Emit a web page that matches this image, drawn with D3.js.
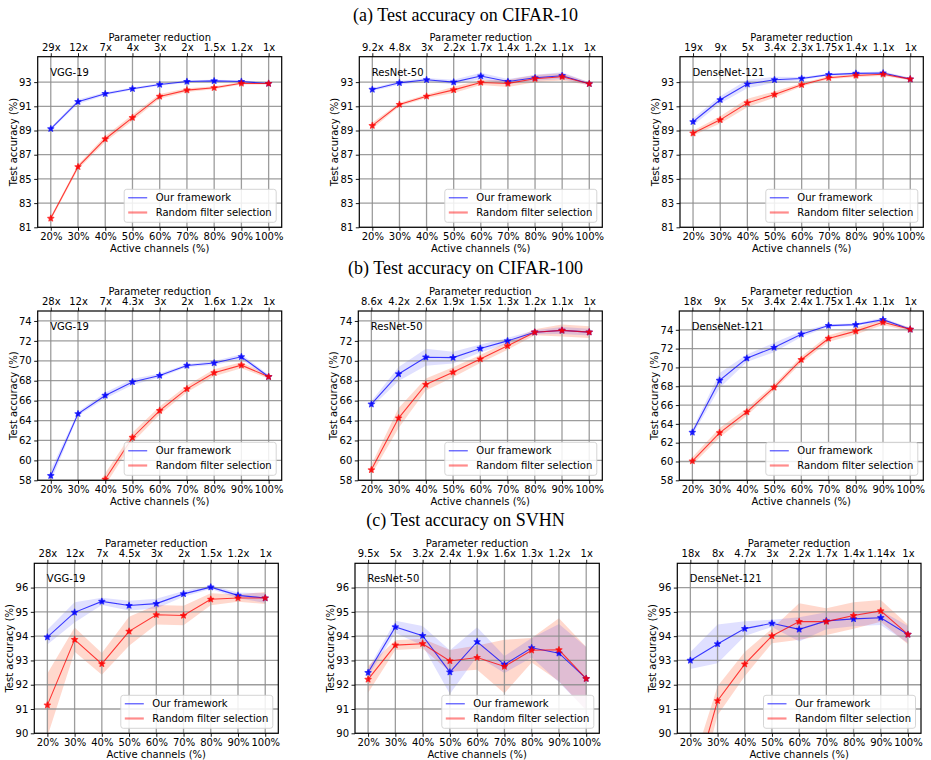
<!DOCTYPE html>
<html>
<head>
<meta charset="utf-8">
<script src="https://cdn.jsdelivr.net/npm/d3@7"></script>
<style>
  body { margin: 0; background: #fff; }
  svg text { font-family: "DejaVu Sans", sans-serif; fill: #000; }
  .title { font-family: "Liberation Serif", "Times New Roman", serif; font-size: 18px; }
</style>
</head>
<body>
<svg id="chart" width="931" height="760"></svg>
<script>
// x values shared by every panel
var activeChannels = [20, 30, 40, 50, 60, 70, 80, 90, 100];

// (a) CIFAR-10
var c10VggReduction = ['29x', '12x', '7x', '4x', '3x', '2x', '1.5x', '1.2x', '1x'];
var c10VggOurs = [89.14, 91.38, 92.04, 92.45, 92.80, 93.05, 93.10, 93.05, 92.88];
var c10VggOursStd = [0.12, 0.18, 0.12, 0.10, 0.10, 0.10, 0.10, 0.10, 0.08];
var c10VggRand = [81.74, 86.00, 88.30, 90.06, 91.82, 92.34, 92.53, 92.90, 92.88];
var c10VggRandStd = [0.15, 0.20, 0.25, 0.25, 0.20, 0.15, 0.12, 0.10, 0.08];

var c10ResReduction = ['9.2x', '4.8x', '3x', '2.2x', '1.7x', '1.4x', '1.2x', '1.1x', '1x'];
var c10ResOurs = [92.39, 92.94, 93.19, 93.00, 93.50, 93.05, 93.36, 93.53, 92.86];
var c10ResOursStd = [0.12, 0.15, 0.15, 0.20, 0.28, 0.20, 0.25, 0.28, 0.12];
var c10ResRand = [89.40, 91.15, 91.83, 92.36, 92.97, 92.89, 93.28, 93.44, 92.86];
var c10ResRandStd = [0.25, 0.15, 0.15, 0.25, 0.20, 0.30, 0.30, 0.30, 0.12];

var c10DenseReduction = ['19x', '9x', '5x', '3.4x', '2.3x', '1.75x', '1.4x', '1.1x', '1x'];
var c10DenseOurs = [89.72, 91.54, 92.84, 93.19, 93.30, 93.62, 93.72, 93.75, 93.25];
var c10DenseOursStd = [0.30, 0.30, 0.35, 0.25, 0.12, 0.10, 0.10, 0.12, 0.10];
var c10DenseRand = [88.78, 89.88, 91.28, 91.98, 92.78, 93.36, 93.55, 93.65, 93.25];
var c10DenseRandStd = [0.20, 0.30, 0.35, 0.25, 0.15, 0.12, 0.12, 0.15, 0.10];

// (b) CIFAR-100
var c100VggReduction = ['28x', '12x', '7x', '4.3x', '3x', '2x', '1.6x', '1.2x', '1x'];
var c100VggOurs = [58.46, 64.68, 66.52, 67.88, 68.52, 69.53, 69.78, 70.40, 68.40];
var c100VggOursStd = [0.60, 0.20, 0.30, 0.30, 0.20, 0.15, 0.20, 0.25, 0.20];
var c100VggRand = [46.00, 53.50, 58.10, 62.30, 65.00, 67.18, 68.80, 69.56, 68.40];
var c100VggRandStd = [0.80, 0.80, 0.60, 0.50, 0.40, 0.35, 0.35, 0.30, 0.20];

var c100ResReduction = ['8.6x', '4.2x', '2.6x', '1.9x', '1.5x', '1.3x', '1.2x', '1.1x', '1x'];
var c100ResOurs = [65.64, 68.68, 70.36, 70.32, 71.24, 72.00, 72.87, 73.05, 72.88];
var c100ResOursStd = [0.30, 0.70, 0.85, 0.60, 0.40, 0.30, 0.20, 0.35, 0.35];
var c100ResRand = [59.05, 64.25, 67.62, 68.86, 70.18, 71.50, 72.87, 73.05, 72.88];
var c100ResRandStd = [0.50, 1.00, 0.60, 0.50, 0.40, 0.40, 0.30, 0.60, 0.60];

var c100DenseReduction = ['18x', '9x', '5x', '3.4x', '2.4x', '1.75x', '1.4x', '1.1x', '1x'];
var c100DenseOurs = [63.10, 68.62, 70.98, 72.12, 73.54, 74.45, 74.55, 75.08, 74.05];
var c100DenseOursStd = [0.30, 0.80, 0.40, 0.50, 0.30, 0.15, 0.15, 0.20, 0.15];
var c100DenseRand = [60.05, 63.05, 65.26, 67.88, 70.82, 73.08, 73.86, 74.80, 74.05];
var c100DenseRandStd = [0.40, 0.50, 0.40, 0.30, 0.35, 0.35, 0.35, 0.30, 0.20];

// (c) SVHN
var svhnVggReduction = ['28x', '12x', '7x', '4.5x', '3x', '2x', '1.5x', '1.2x', '1x'];
var svhnVggOurs = [93.96, 94.98, 95.43, 95.26, 95.34, 95.74, 96.02, 95.68, 95.57];
var svhnVggOursStd = [0.30, 0.42, 0.15, 0.20, 0.20, 0.12, 0.08, 0.12, 0.20];
var svhnVggRand = [91.16, 93.86, 92.86, 94.20, 94.88, 94.85, 95.52, 95.57, 95.57];
var svhnVggRandStd = [1.30, 0.50, 0.45, 0.60, 0.40, 0.40, 0.25, 0.15, 0.25];

var svhnResReduction = ['9.5x', '5x', '3.2x', '2.4x', '1.9x', '1.6x', '1.3x', '1.2x', '1x'];
var svhnResOurs = [92.50, 94.38, 94.02, 92.52, 93.77, 92.83, 93.52, 93.30, 92.25];
var svhnResOursStd = [0.15, 0.25, 0.40, 0.90, 0.60, 0.35, 0.40, 1.20, 1.30];
var svhnResRand = [92.22, 93.63, 93.69, 92.98, 93.12, 92.75, 93.42, 93.44, 92.25];
var svhnResRandStd = [0.55, 0.20, 0.20, 0.45, 0.50, 1.10, 0.50, 1.30, 1.30];

var svhnDenseReduction = ['18x', '8x', '4.7x', '3x', '2.2x', '1.7x', '1.4x', '1.14x', '1x'];
var svhnDenseOurs = [93.00, 93.68, 94.31, 94.53, 94.28, 94.63, 94.71, 94.76, 94.07];
var svhnDenseOursStd = [0.35, 0.80, 0.30, 0.15, 0.50, 0.35, 0.30, 0.30, 0.35];
var svhnDenseRand = [87.40, 91.34, 92.85, 94.01, 94.60, 94.60, 94.85, 95.04, 94.07];
var svhnDenseRandStd = [1.00, 0.60, 0.50, 0.30, 0.75, 0.55, 0.55, 0.45, 0.40];

// y ticks per row
var c10Ticks = [81, 83, 85, 87, 89, 91, 93];
var c100Ticks = [58, 60, 62, 64, 66, 68, 70, 72, 74];
var svhnTicks = [90, 91, 92, 93, 94, 95, 96];

var rowTitles = ['(a) Test accuracy on CIFAR-10', '(b) Test accuracy on CIFAR-100', '(c) Test accuracy on SVHN'];

// Panel layout (pixel boxes) + which arrays go where
var panels = [
  {model: 'VGG-19', box: [37.7, 56.7, 281.7, 227.3], ydom: [81, 95.1], ticks: c10Ticks, red: c10VggReduction,
   ours: c10VggOurs, oursStd: c10VggOursStd, rand: c10VggRand, randStd: c10VggRandStd},
  {model: 'ResNet-50', box: [359.3, 56.7, 602.3, 227.3], ydom: [81, 95.1], ticks: c10Ticks, red: c10ResReduction,
   ours: c10ResOurs, oursStd: c10ResOursStd, rand: c10ResRand, randStd: c10ResRandStd},
  {model: 'DenseNet-121', box: [680, 56.7, 923.3, 227.3], ydom: [81, 95.1], ticks: c10Ticks, red: c10DenseReduction,
   ours: c10DenseOurs, oursStd: c10DenseOursStd, rand: c10DenseRand, randStd: c10DenseRandStd},
  {model: 'VGG-19', box: [37.7, 311, 281.7, 480.3], ydom: [58, 75], ticks: c100Ticks, red: c100VggReduction,
   ours: c100VggOurs, oursStd: c100VggOursStd, rand: c100VggRand, randStd: c100VggRandStd},
  {model: 'ResNet-50', box: [358.3, 311, 602.3, 480.3], ydom: [58, 75], ticks: c100Ticks, red: c100ResReduction,
   ours: c100ResOurs, oursStd: c100ResOursStd, rand: c100ResRand, randStd: c100ResRandStd},
  {model: 'DenseNet-121', box: [679.3, 311, 923.3, 480.3], ydom: [58, 76], ticks: c100Ticks, red: c100DenseReduction,
   ours: c100DenseOurs, oursStd: c100DenseOursStd, rand: c100DenseRand, randStd: c100DenseRandStd},
  {model: 'VGG-19', box: [34.3, 563.3, 278.3, 733.3], ydom: [90, 97], ticks: svhnTicks, red: svhnVggReduction,
   ours: svhnVggOurs, oursStd: svhnVggOursStd, rand: svhnVggRand, randStd: svhnVggRandStd},
  {model: 'ResNet-50', box: [355, 563.3, 599.3, 733.3], ydom: [90, 97], ticks: svhnTicks, red: svhnResReduction,
   ours: svhnResOurs, oursStd: svhnResOursStd, rand: svhnResRand, randStd: svhnResRandStd},
  {model: 'DenseNet-121', box: [677.3, 563.3, 921, 733.3], ydom: [90, 97], ticks: svhnTicks, red: svhnDenseReduction,
   ours: svhnDenseOurs, oursStd: svhnDenseOursStd, rand: svhnDenseRand, randStd: svhnDenseRandStd}
];
var titleY = [21, 274, 526];

var svg = d3.select('#chart');
var fs = 10;

svg.selectAll('.title')
  .data(rowTitles).enter()
  .append('text')
  .attr('class', 'title')
  .attr('x', 465.5)
  .attr('y', function(d, i) { return titleY[i]; })
  .attr('text-anchor', 'middle')
  .text(function(d) { return d; });

function drawPanel(p, idx) {
  var x0 = p.box[0], y0 = p.box[1], x1 = p.box[2], y1 = p.box[3];
  var x = d3.scaleLinear().domain([15.2, 104.8]).range([x0, x1]);
  var y = d3.scaleLinear().domain(p.ydom).range([y1, y0]);
  var g = svg.append('g');

  // clip to the axes area
  var clipId = 'clip' + idx;
  svg.append('clipPath').attr('id', clipId)
    .append('rect').attr('x', x0).attr('y', y0).attr('width', x1 - x0).attr('height', y1 - y0);
  var plot = g.append('g').attr('clip-path', 'url(#' + clipId + ')');

  var oursData = activeChannels.map(function(c, i) { return {x: c, y: p.ours[i], s: p.oursStd[i]}; });
  var randData = activeChannels.map(function(c, i) { return {x: c, y: p.rand[i], s: p.randStd[i]}; });

  var band = d3.area()
    .x(function(d) { return x(d.x); })
    .y0(function(d) { return y(d.y - d.s); })
    .y1(function(d) { return y(d.y + d.s); });
  var line = d3.line()
    .x(function(d) { return x(d.x); })
    .y(function(d) { return y(d.y); });

  plot.append('path').datum(randData).attr('d', band)
    .attr('fill', '#ff6a3d').attr('fill-opacity', 0.26);
  plot.append('path').datum(oursData).attr('d', band)
    .attr('fill', '#0000ff').attr('fill-opacity', 0.12);

  // grid lines sit above the bands
  plot.selectAll('.vgrid').data(activeChannels).enter()
    .append('line')
    .attr('x1', function(d) { return x(d); }).attr('x2', function(d) { return x(d); })
    .attr('y1', y0).attr('y2', y1)
    .attr('stroke', '#8c8c8c').attr('stroke-width', 1.3).attr('stroke-opacity', 0.85);
  plot.selectAll('.hgrid').data(p.ticks).enter()
    .append('line')
    .attr('x1', x0).attr('x2', x1)
    .attr('y1', function(d) { return y(d); }).attr('y2', function(d) { return y(d); })
    .attr('stroke', '#8c8c8c').attr('stroke-width', 1.3).attr('stroke-opacity', 0.85);

  var star = d3.symbol().type(d3.symbolStar).size(11);
  [[oursData, '#0000ff'], [randData, '#ff0000']].forEach(function(s) {
    plot.append('path').datum(s[0]).attr('d', line)
      .attr('fill', 'none').attr('stroke', s[1]).attr('stroke-width', 1.1).attr('stroke-opacity', 0.75);
    plot.selectAll(null).data(s[0]).enter()
      .append('path')
      .attr('d', star)
      .attr('transform', function(d) { return 'translate(' + x(d.x) + ',' + y(d.y) + ')'; })
      .attr('fill', s[1]).attr('fill-opacity', 0.7)
      .attr('stroke', s[1]).attr('stroke-opacity', 0.7).attr('stroke-width', 1.3)
      .attr('stroke-linejoin', 'round');
  });

  // frame
  g.append('rect').attr('x', x0).attr('y', y0).attr('width', x1 - x0).attr('height', y1 - y0)
    .attr('fill', 'none').attr('stroke', '#000').attr('stroke-width', 1.2);

  // bottom axis
  var bottom = d3.axisBottom(x).tickValues(activeChannels).tickSize(3.5).tickPadding(2.5)
    .tickFormat(function(d) { return d + '%'; });
  var ba = g.append('g').attr('transform', 'translate(0,' + y1 + ')').call(bottom);
  // top axis, parameter reduction
  var top = d3.axisTop(x).tickValues(activeChannels).tickSize(3.5).tickPadding(2.5)
    .tickFormat(function(d, i) { return p.red[i]; });
  var ta = g.append('g').attr('transform', 'translate(0,' + y0 + ')').call(top);
  // left axis
  var left = d3.axisLeft(y).tickValues(p.ticks).tickSize(3.5).tickPadding(2.5)
    .tickFormat(d3.format('d'));
  var la = g.append('g').attr('transform', 'translate(' + x0 + ',0)').call(left);

  [ba, ta, la].forEach(function(a) {
    a.select('.domain').remove();
    a.selectAll('.tick line').attr('stroke', '#000').attr('stroke-width', 0.9);
    a.selectAll('.tick text').attr('font-size', fs).attr('font-family', '"DejaVu Sans", sans-serif').attr('fill', '#000');
  });

  g.append('text').attr('x', (x0 + x1) / 2).attr('y', y1 + 24.5)
    .attr('text-anchor', 'middle').attr('font-size', fs).text('Active channels (%)');
  g.append('text').attr('x', (x0 + x1) / 2).attr('y', y0 - 16)
    .attr('text-anchor', 'middle').attr('font-size', fs).text('Parameter reduction');
  g.append('text')
    .attr('transform', 'translate(' + (x0 - 21) + ',' + ((y0 + y1) / 2) + ') rotate(-90)')
    .attr('text-anchor', 'middle').attr('font-size', fs).text('Test accuracy (%)');

  // model name
  g.append('text').attr('x', x0 + 12.5).attr('y', y0 + 19)
    .attr('font-size', fs).text(p.model);

  // legend, lower right
  var lw = 152, lh = 33;
  var lx = x1 - 5.5 - lw, ly = y1 - 5 - lh;
  var leg = g.append('g');
  leg.append('rect').attr('x', lx).attr('y', ly).attr('width', lw).attr('height', lh)
    .attr('rx', 2.5).attr('fill', '#fff').attr('fill-opacity', 0.85)
    .attr('stroke', '#d0d0d0').attr('stroke-width', 0.9);
  var entries = [
    {label: 'Our framework', color: '#0000ff', w: 1.1, op: 0.75},
    {label: 'Random filter selection', color: '#ff0000', w: 2.2, op: 0.45}
  ];
  entries.forEach(function(e, i) {
    var yy = ly + 8.5 + i * 14.7;
    leg.append('line').attr('x1', lx + 4).attr('x2', lx + 23).attr('y1', yy).attr('y2', yy)
      .attr('stroke', e.color).attr('stroke-width', e.w).attr('stroke-opacity', e.op);
    leg.append('text').attr('x', lx + 31.5).attr('y', yy + 3.5)
      .attr('font-size', fs).text(e.label);
  });
}

panels.forEach(function(p, i) { drawPanel(p, i); });
</script>
</body>
</html>
